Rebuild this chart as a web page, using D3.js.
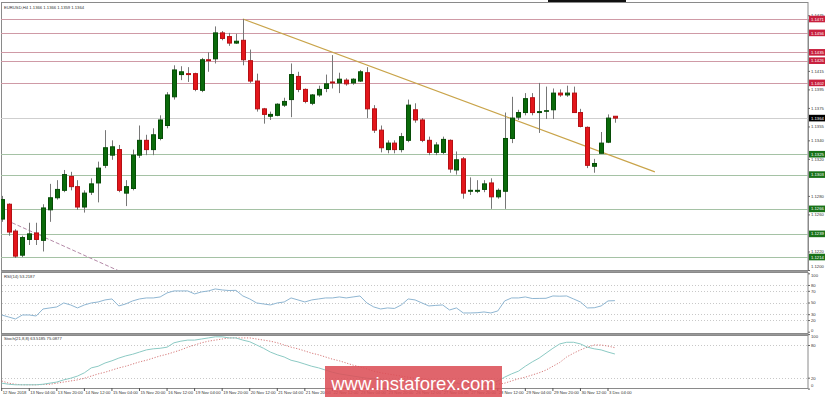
<!DOCTYPE html>
<html>
<head>
<meta charset="utf-8">
<script src="https://d3js.org/d3.v7.min.js"></script>
<style>
body { margin: 0; background: #fff; }
svg { display: block; font-family: "Liberation Sans", Arial, sans-serif; }
</style>
</head>
<body>
<div id="chart"></div>
<script>
// EURUSD H4, 12 Nov 12:00 -> 3 Dec 08:00
var opens = [1.1255,1.1271,1.1242,1.1216,1.1233,1.1240,1.1232,1.1265,1.1278,1.1286,
	1.1301,1.1290,1.1268,1.1284,1.1294,1.1313,1.1324,1.1330,1.1283,1.1288,
	1.1324,1.1340,1.1330,1.1342,1.1356,1.1387,1.1411,1.1412,1.1412,1.1394,
	1.1427,1.1428,1.1456,1.1452,1.1445,1.1448,1.1426,1.1404,1.1374,1.1366,
	1.1367,1.1378,1.1384,1.1409,1.1395,1.1380,1.1389,1.1396,1.1403,1.1402,
	1.1405,1.1402,1.1404,1.1413,1.1374,1.1351,1.1330,1.1337,1.1330,1.1340,
	1.1373,1.1362,1.1340,1.1327,1.1327,1.1340,1.1308,1.1320,1.1285,1.1285,
	1.1287,1.1294,1.1279,1.1285,1.1342,1.1365,1.1370,1.1386,1.1370,1.1372,
	1.1373,1.1391,1.1389,1.1391,1.1370,1.1354,1.1312,1.1326,1.1338,1.1366];
var highs = [1.1280,1.1272,1.1244,1.1237,1.1251,1.1251,1.1271,1.1293,1.1297,1.1308,
	1.1306,1.1297,1.1286,1.1299,1.1317,1.1351,1.1340,1.1335,1.1297,1.1330,
	1.1356,1.1346,1.1353,1.1367,1.1392,1.1421,1.1420,1.1419,1.1413,1.1429,
	1.1435,1.1463,1.1458,1.1456,1.1455,1.1471,1.1438,1.1412,1.1375,1.1371,
	1.1380,1.1386,1.1423,1.1414,1.1396,1.1390,1.1399,1.1411,1.1432,1.1413,
	1.1407,1.1407,1.1416,1.1419,1.1378,1.1356,1.1340,1.1340,1.1348,1.1384,
	1.1380,1.1364,1.1344,1.1338,1.1344,1.1341,1.1328,1.1322,1.1300,1.1297,
	1.1297,1.1299,1.1288,1.1370,1.1387,1.1373,1.1391,1.1391,1.1402,1.1398,
	1.1396,1.1395,1.1399,1.1398,1.1374,1.1355,1.1320,1.1349,1.1368,1.1366];
var lows = [1.1252,1.1237,1.1213,1.1214,1.1227,1.1227,1.1220,1.1252,1.1276,1.1284,
	1.1286,1.1265,1.1262,1.1281,1.1273,1.1310,1.1319,1.1284,1.1269,1.1286,
	1.1321,1.1324,1.1324,1.1340,1.1353,1.1384,1.1405,1.1403,1.1393,1.1392,
	1.1414,1.1423,1.1448,1.1442,1.1444,1.1421,1.1402,1.1371,1.1358,1.1362,
	1.1366,1.1376,1.1365,1.1392,1.1380,1.1378,1.1387,1.1392,1.1396,1.1391,
	1.1399,1.1400,1.1403,1.1364,1.1348,1.1327,1.1326,1.1326,1.1327,1.1338,
	1.1359,1.1338,1.1324,1.1324,1.1325,1.1305,1.1303,1.1277,1.1281,1.1283,
	1.1284,1.1266,1.1277,1.1266,1.1337,1.1362,1.1367,1.1367,1.1348,1.1363,
	1.1363,1.1387,1.1387,1.1370,1.1354,1.1310,1.1305,1.1326,1.1337,1.1359];
var closes = [1.1276,1.1241,1.1215,1.1235,1.1239,1.1233,1.1267,1.1278,1.1287,1.1303,
	1.1290,1.1268,1.1283,1.1293,1.1310,1.1332,1.1333,1.1286,1.1290,1.1324,
	1.1340,1.1330,1.1346,1.1362,1.1389,1.1416,1.1414,1.1411,1.1395,1.1427,
	1.1426,1.1456,1.1450,1.1445,1.1447,1.1427,1.1404,1.1374,1.1368,1.1368,
	1.1379,1.1382,1.1411,1.1395,1.1382,1.1389,1.1395,1.1401,1.1402,1.1406,
	1.1401,1.1406,1.1414,1.1374,1.1351,1.1332,1.1337,1.1330,1.1344,1.1378,
	1.1362,1.1340,1.1327,1.1335,1.1341,1.1309,1.1319,1.1283,1.1286,1.1286,
	1.1293,1.1279,1.1286,1.1342,1.1364,1.1370,1.1385,1.1370,1.1371,1.1372,
	1.1391,1.1389,1.1391,1.1370,1.1355,1.1313,1.1315,1.1337,1.1364,1.1364];

var rsi = [28.6,25.2,21.8,28.6,28.6,26.9,38.9,40.7,42.4,49.2,
	45.8,40.7,45.8,49.2,50.9,54.4,56.1,44.1,47.5,52.7,
	56.1,57.8,57.8,59.5,66.4,69.8,69.8,69.8,64.7,68.1,
	69.8,73.2,71.5,70.5,70.8,61.2,56.1,49.2,47.5,45.8,
	49.2,50.9,57.8,54.4,50.9,54.4,56.1,57.8,57.8,59.5,
	57.8,59.5,61.2,49.2,42.4,38.9,40.7,39.8,45.8,56.1,
	54.4,49.2,44.1,45.0,45.8,37.2,40.7,32.1,32.1,32.5,
	33.8,32.1,35.5,52.7,57.8,57.8,59.5,56.8,57.0,57.2,
	61.2,60.8,61.2,56.1,50.9,40.7,41.0,44.1,52.7,53.2];

var stochMain = [10,8,7,7,7,7,8,10,12,16,
	19,23,29,38,41,47,51,56,60,63,
	67,71,73,74,76,84,87,89,89,91,
	93,95,95,93,93,89,86,80,74,67,
	62,58,52,49,45,41,38,34,30,27,
	25,23,21,19,18,16,14,12,12,12,
	12,10,10,10,10,10,10,8,8,8,
	8,8,14,21,27,32,41,49,56,65,
	74,82,85,85,82,76,73,71,67,63.5];
var stochSignal = [14,10,8,7,7,7,7.5,8,10,12,
	14,16,19,23,27,30,34,38,41,45,
	49,52,56,60,63,67,71,76,80,84,
	87,89,91,93,93,93,93,91,89,87,
	84,80,76,73,69,65,62,58,54,51,
	47,43,40,36,32,29,27,25,23,21,
	19,18,16,14,12,12,10,10,10,8,
	8,8,8,10,14,18,21,25,29,34,
	41,48,58,65,71,76,80,80,78,75.1];

// bottom axis labels, one every 4 bars
var timeLabels = ["12 Nov 2018","13 Nov 04:00","13 Nov 20:00","14 Nov 12:00","15 Nov 04:00",
	"15 Nov 20:00","16 Nov 12:00","19 Nov 04:00","19 Nov 20:00","20 Nov 12:00","21 Nov 04:00",
	"21 Nov 20:00","22 Nov 12:00","23 Nov 04:00","23 Nov 20:00","26 Nov 12:00","27 Nov 04:00",
	"27 Nov 20:00","28 Nov 12:00","29 Nov 04:00","29 Nov 20:00","30 Nov 12:00","3 Dec 04:00"];

var priceTicks = [1.1475,1.1415,1.1395,1.1375,1.1355,1.1340,1.1320,1.1280,1.1260,1.1220,1.1200];
var resistLevels = [1.1471,1.1456,1.1435,1.1426,1.1402];
var supportLevels = [1.1325,1.1303,1.1266,1.1239,1.1214];
var lastPrice = 1.1364;
var rsiTicks = [100,80,70,50,30,20,0];
var rsiDots = [80,70,50,30,20];
var stochTicks = [100,80,20,0];
var stochDots = [80,20];

// trend lines [bar index, price]
var trendLine = [[35,1.1471],[94.8,1.1306]];
var oldTrend = [[1.5,1.1251],[20,1.1189]];

var width = 825,
	height = 397,
	right = 808;

var svg = d3.select("#chart").append("svg")
	.attr("width", width)
	.attr("height", height);

var x = d3.scaleLinear().domain([0, 89]).range([1.7, 614.9]);
var y = d3.scaleLinear().domain([1.1200, 1.1471]).range([270, 19]);
var yRsi = d3.scaleLinear().domain([0, 100]).range([331.7, 273.3]);
var ySt = d3.scaleLinear().domain([0, 100]).range([388.6, 334.1]);

function px(v) { return Math.round(v) + 0.5; }

// clip for main panel
svg.append("clipPath").attr("id", "mainClip")
	.append("rect").attr("x", 1).attr("y", 2).attr("width", right - 1).attr("height", 268);

// top black strip
svg.append("rect").attr("x", 548).attr("y", 0).attr("width", 78).attr("height", 2).attr("fill", "#111");

// panel frames
[[2, 270], [272, 333], [335, 388]].forEach(function(p) {
	svg.append("rect")
		.attr("x", 1.5).attr("y", p[0] + 0.5)
		.attr("width", right - 1.5).attr("height", p[1] - p[0])
		.attr("fill", "none").attr("stroke", "#8a8a8a");
});
svg.append("line").attr("x1", 1).attr("x2", right).attr("y1", 271.5).attr("y2", 271.5).attr("stroke", "#999");
svg.append("line").attr("x1", 1).attr("x2", right).attr("y1", 334.5).attr("y2", 334.5).attr("stroke", "#999");

var main = svg.append("g").attr("clip-path", "url(#mainClip)");

// horizontal levels
main.selectAll(".res").data(resistLevels).enter().append("line")
	.attr("x1", 1).attr("x2", right)
	.attr("y1", function(d) { return px(y(d)); }).attr("y2", function(d) { return px(y(d)); })
	.attr("stroke", "#cf9aa6");
main.selectAll(".sup").data(supportLevels).enter().append("line")
	.attr("x1", 1).attr("x2", right)
	.attr("y1", function(d) { return px(y(d)); }).attr("y2", function(d) { return px(y(d)); })
	.attr("stroke", "#a5c2a5");
main.append("line")
	.attr("x1", 1).attr("x2", right)
	.attr("y1", px(y(lastPrice))).attr("y2", px(y(lastPrice)))
	.attr("stroke", "#cfcfcf");

// trend lines
var tl = d3.line().x(function(d) { return x(d[0]); }).y(function(d) { return y(d[1]); });
main.append("path").datum(oldTrend).attr("d", tl)
	.attr("fill", "none").attr("stroke", "#b48aa8").attr("stroke-dasharray", "4,2");
main.append("path").datum(trendLine).attr("d", tl)
	.attr("fill", "none").attr("stroke", "#c9a44a").attr("stroke-width", 1.2);

// candles
var bars = main.selectAll(".bar").data(d3.range(opens.length)).enter().append("g");
bars.append("line")
	.attr("x1", function(i) { return px(x(i)); }).attr("x2", function(i) { return px(x(i)); })
	.attr("y1", function(i) { return y(highs[i]); }).attr("y2", function(i) { return y(lows[i]); })
	.attr("stroke", "#777");
bars.append("rect")
	.attr("x", function(i) { return Math.round(x(i)) - 1.5; })
	.attr("y", function(i) { return y(Math.max(opens[i], closes[i])); })
	.attr("width", 4)
	.attr("height", function(i) { return Math.max(0.6, Math.abs(y(opens[i]) - y(closes[i]))); })
	.attr("fill", function(i) { return closes[i] >= opens[i] ? "#0a6a0a" : "#e3161b"; })
	.attr("stroke", function(i) { return closes[i] >= opens[i] ? "#064c06" : "#b51014"; });

// header
svg.append("text").attr("x", 4).attr("y", 8.5)
	.style("font-size", "4.2px").attr("fill", "#333")
	.text("EURUSD,H4  1.1366 1.1366 1.1359 1.1364");

// price axis
var yAxis = d3.axisRight(y).tickValues(priceTicks).tickSize(2)
	.tickFormat(d3.format(".4f"));
var ya = svg.append("g").attr("transform", "translate(" + right + ",0)").call(yAxis);
ya.select(".domain").attr("stroke", "#8a8a8a");
ya.selectAll(".tick line").attr("stroke", "#666");
ya.selectAll(".tick text").attr("x", 3).style("font-size", "4.2px").attr("fill", "#333")
	.attr("y", function(d) { return y(d) > 266 ? -4 : 0; });

// coloured level tags
function tag(v, col) {
	var g = svg.append("g").attr("transform", "translate(" + (right + 1) + "," + y(v) + ")");
	g.append("rect").attr("x", 0).attr("y", -3.3).attr("width", 16).attr("height", 6.6).attr("fill", col);
	g.append("text").attr("x", 2).attr("y", 1.6).style("font-size", "4.2px").attr("fill", "#fff")
		.text(d3.format(".4f")(v));
}
resistLevels.forEach(function(v) { tag(v, "#c8203e"); });
supportLevels.forEach(function(v) { tag(v, "#187218"); });
tag(lastPrice, "#000");

// RSI panel
svg.selectAll(".rdot").data(rsiDots).enter().append("line")
	.attr("x1", 2).attr("x2", right)
	.attr("y1", function(d) { return px(yRsi(d)); }).attr("y2", function(d) { return px(yRsi(d)); })
	.attr("stroke", "#c8c8c8").attr("stroke-dasharray", "1,2");
svg.append("path").datum(rsi)
	.attr("d", d3.line().x(function(d, i) { return x(i); }).y(function(d) { return yRsi(d); }))
	.attr("fill", "none").attr("stroke", "#8fb6d2").attr("stroke-width", 1);
svg.append("text").attr("x", 4).attr("y", 278).style("font-size", "4.2px").attr("fill", "#333")
	.text("RSI(14) 53.2187");
var ra = svg.append("g").attr("transform", "translate(" + right + ",0)")
	.call(d3.axisRight(yRsi).tickValues(rsiTicks).tickSize(2));
ra.select(".domain").remove();
ra.selectAll(".tick line").attr("stroke", "#666");
ra.selectAll(".tick text").attr("x", 3).style("font-size", "4.2px").attr("fill", "#333")
	.attr("y", function(d) { return d == 100 ? 1.5 : d == 0 ? -1.5 : 0; });

// Stochastic panel
svg.selectAll(".sdot").data(stochDots).enter().append("line")
	.attr("x1", 2).attr("x2", right)
	.attr("y1", function(d) { return px(ySt(d)); }).attr("y2", function(d) { return px(ySt(d)); })
	.attr("stroke", "#c8c8c8").attr("stroke-dasharray", "1,2");
var sl = d3.line().x(function(d, i) { return x(i); }).y(function(d) { return ySt(d); });
svg.append("path").datum(stochSignal).attr("d", sl)
	.attr("fill", "none").attr("stroke", "#d67a7a").attr("stroke-dasharray", "1.2,1.6");
svg.append("path").datum(stochMain).attr("d", sl)
	.attr("fill", "none").attr("stroke", "#8ccac4");
svg.append("text").attr("x", 4).attr("y", 340).style("font-size", "4.2px").attr("fill", "#333")
	.text("Stoch(21,8,8) 63.5185 75.0877");
var sa = svg.append("g").attr("transform", "translate(" + right + ",0)")
	.call(d3.axisRight(ySt).tickValues(stochTicks).tickSize(2));
sa.select(".domain").remove();
sa.selectAll(".tick line").attr("stroke", "#666");
sa.selectAll(".tick text").attr("x", 3).style("font-size", "4.2px").attr("fill", "#333")
	.attr("y", function(d) { return d == 100 ? 2.5 : d == 0 ? -3 : 0; });

// time axis
var xa = svg.append("g").attr("transform", "translate(0,388)")
	.call(d3.axisBottom(x).tickValues(d3.range(0, 89, 4)).tickSize(3)
		.tickFormat(function(d) { return timeLabels[d / 4]; }));
xa.select(".domain").remove();
xa.selectAll(".tick line").attr("stroke", "#555").attr("transform", "translate(-0.5,0)");
xa.selectAll(".tick text").attr("text-anchor", "start").attr("x", 0.5).attr("y", 3.5)
	.style("font-size", "4.2px").attr("fill", "#333");

// watermark
svg.append("rect").attr("x", 325).attr("y", 366).attr("width", 177).attr("height", 31)
	.attr("fill", "#dc5058").attr("opacity", 0.88);
svg.append("text").attr("x", 413.5).attr("y", 389.5).attr("text-anchor", "middle")
	.style("font-size", "18.5px").attr("fill", "#fff")
	.text("www.instaforex.com");
</script>
</body>
</html>
